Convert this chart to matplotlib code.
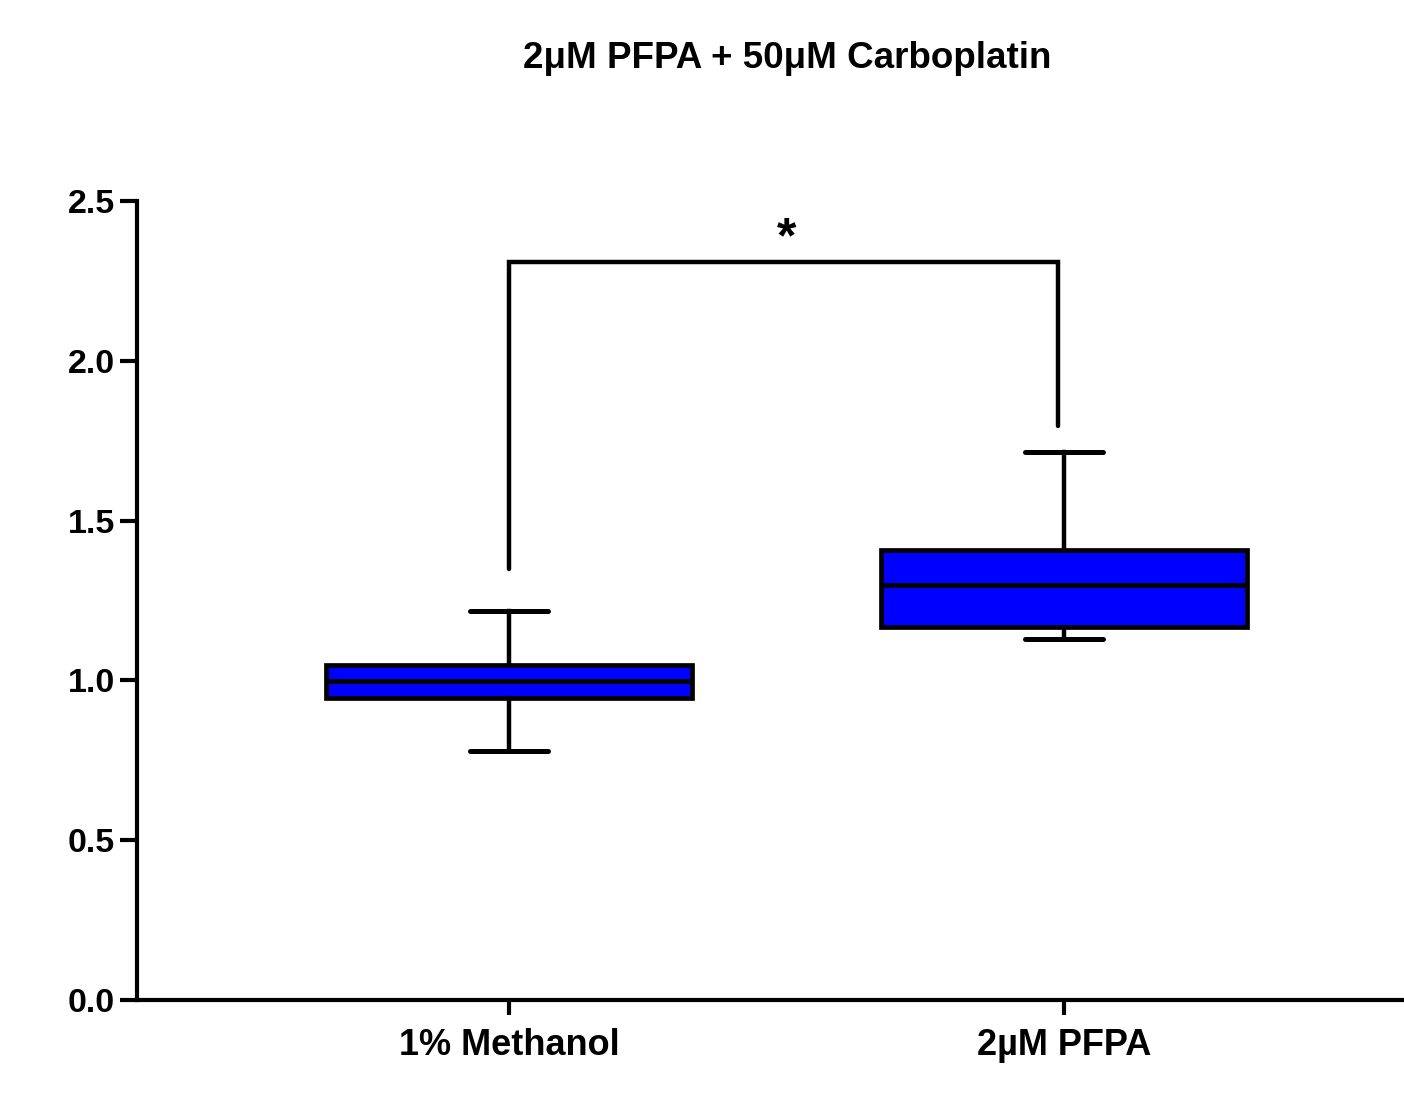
import matplotlib.pyplot as plt

plt.rcParams["font.family"] = ["Liberation Sans", "DejaVu Sans"]
plt.rcParams["font.weight"] = "bold"

groups = ["1% Methanol", "2\u00b5M PFPA"]
whislo = [0.78, 1.13]
q1 = [0.945, 1.167]
med = [0.997, 1.297]
q3 = [1.048, 1.408]
whishi = [1.217, 1.715]

bracket_y = 2.31
bracket_left_y = 1.35
bracket_right_y = 1.795
star_y = 2.38

yticks = [0.0, 0.5, 1.0, 1.5, 2.0, 2.5]

fig = plt.figure(figsize=(14.04, 11.01), dpi=100)
ax = fig.add_axes([137 / 1404, 1 - 1000 / 1101, 1 - 137 / 1404, (1000 - 201) / 1101])

stats = []
for i, g in enumerate(groups):
    stats.append({"label": g, "whislo": whislo[i], "q1": q1[i], "med": med[i],
                  "q3": q3[i], "whishi": whishi[i], "fliers": []})

ax.bxp(stats, positions=[0, 1], widths=0.66, capwidths=0.14, patch_artist=True,
       showfliers=False,
       boxprops=dict(facecolor="#0000ff", edgecolor="black", linewidth=3.4),
       medianprops=dict(color="black", linewidth=3.4),
       whiskerprops=dict(color="black", linewidth=3.2),
       capprops=dict(color="black", linewidth=3.6, solid_capstyle="round"))

# significance bracket
ax.plot([0, 0, 0.99, 0.99], [bracket_left_y, bracket_y, bracket_y, bracket_right_y],
        color="black", linewidth=3.2, solid_capstyle="round", solid_joinstyle="miter",
        clip_on=False)
ax.text(0.5, star_y, "*", ha="center", va="center", fontsize=36, fontweight="bold")

ax.set_xlim(-0.67, 1.613)
ax.set_ylim(0, 2.5)
ax.set_yticks(yticks)
ax.set_yticklabels([f"{v:.1f}" for v in yticks])
ax.set_xticks([0, 1])
ax.set_xticklabels(groups)

for s in ["top", "right"]:
    ax.spines[s].set_visible(False)
for s in ["left", "bottom"]:
    ax.spines[s].set_linewidth(3)
ax.tick_params(axis="y", length=12, width=3, labelsize=24.5, pad=4)
ax.tick_params(axis="x", length=11, width=3, labelsize=26, pad=9)

fig.text(787 / 1404, 1 - 59 / 1101, "2\u03bcM PFPA + 50\u03bcM Carboplatin",
         ha="center", va="center", fontsize=26.5, fontweight="bold")

fig.savefig("out.png", dpi=100)
